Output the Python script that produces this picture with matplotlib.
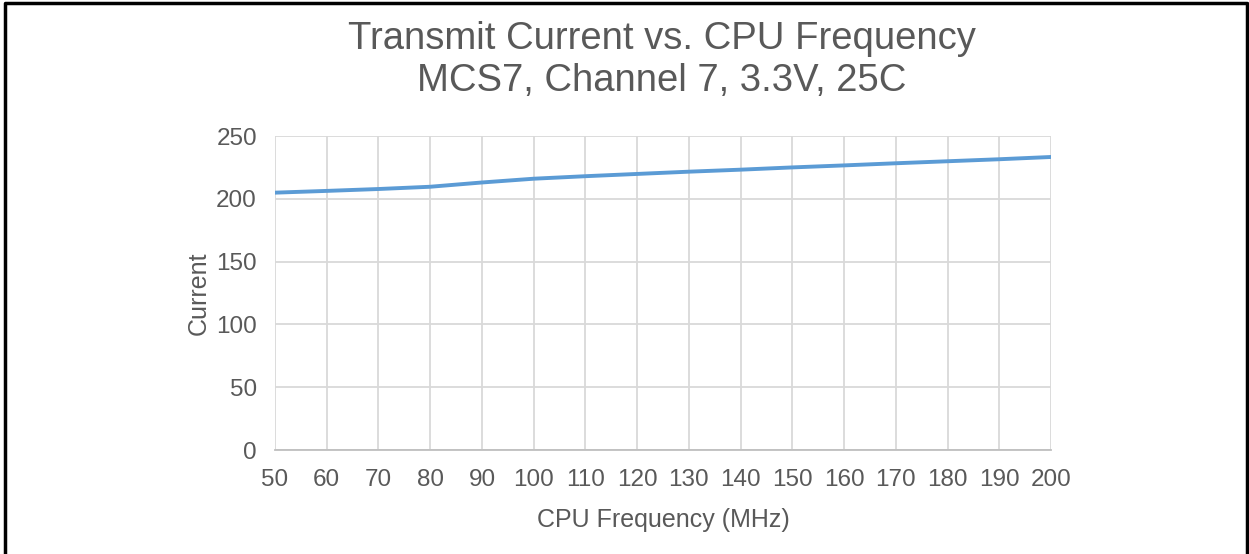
import matplotlib
matplotlib.use("Agg")
import matplotlib.pyplot as plt
from matplotlib.lines import Line2D

# transmit current (mA) measured at each CPU frequency (MHz)
freq = [50, 60, 70, 80, 90, 100, 110, 120, 130, 140, 150, 160, 170, 180, 190, 200]
current = [204.9, 206.3, 207.8, 209.6, 213.0, 216.0, 218.0, 219.8, 221.6, 223.2,
           225.0, 226.6, 228.3, 229.9, 231.5, 233.3]

plt.rcParams['font.family'] = ['Liberation Sans', 'DejaVu Sans']
txt = '#595959'
gridc = '#d9d9d9'

fig = plt.figure(figsize=(12.49, 5.54), dpi=100)
ax = fig.add_axes([0.2202, 0.1877, 0.6213, 0.5668])

ax.plot(freq, current, color='#5b9bd5', lw=2.8, solid_capstyle='round')

ax.set_xlim(50, 200)
ax.set_ylim(0, 250)
ax.set_xticks(range(50, 201, 10))
ax.set_yticks(range(0, 251, 50))
ax.grid(True, color=gridc, lw=1.3)
ax.set_axisbelow(True)
for s in ax.spines.values():
    s.set_visible(False)
ax.spines['bottom'].set_visible(True)
ax.spines['bottom'].set_color('#bfbfbf')
ax.spines['bottom'].set_linewidth(1.3)
ax.tick_params(length=0, labelsize=17.5, labelcolor=txt)
ax.tick_params(axis='x', pad=14)
ax.tick_params(axis='y', pad=13)

ax.set_xlabel('CPU Frequency (MHz)', fontsize=18, color=txt, labelpad=12)
ax.set_ylabel('Current', fontsize=18, color=txt, labelpad=4)

fig.text(0.53, 0.962, 'Transmit Current vs. CPU Frequency\nMCS7, Channel 7, 3.3V, 25C',
         ha='center', va='top', fontsize=27.5, color=txt, linespacing=1.2)

# frame on left, top and right of the figure
fx = [0.004, 0.004, 0.998, 0.998]
fy = [0.0, 0.995, 0.995, 0.0]
fig.lines.append(Line2D(fx, fy, transform=fig.transFigure, color='black', lw=2.5))

fig.savefig('out.png', dpi=100)
